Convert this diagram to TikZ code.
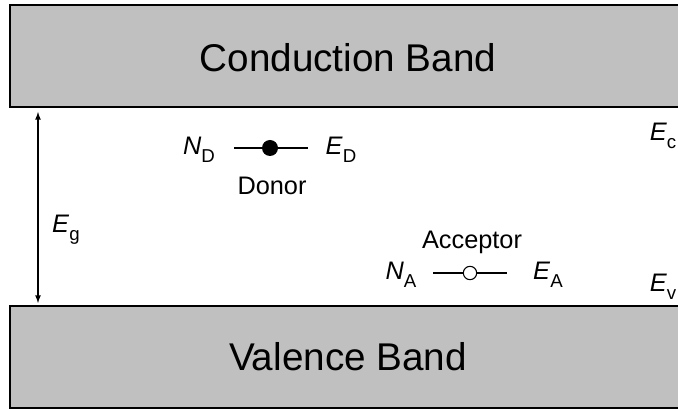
\documentclass[tikz,border=0pt]{standalone}
\usepackage{fontspec}
\setmainfont{Liberation Sans}
\usetikzlibrary{positioning}
\definecolor{bandgray}{RGB}{192,192,192}
\newcommand{\lvl}[2]{\textit{#1}\raisebox{-0.6ex}{\fontsize{14}{14}\selectfont #2}}

\begin{document}
\begin{tikzpicture}[x=0.75pt,y=-0.75pt,
    band/.style={draw=black, line width=1.3pt, fill=bandgray},
    bandtext/.style={font=\fontsize{29}{34}\selectfont},
    lbl/.style={font=\fontsize{19}{22}\selectfont, inner sep=0pt},
    level/.style={line width=1.3pt},
    donordot/.style={circle, fill=black, inner sep=0pt, minimum size=12pt},
    acceptdot/.style={circle, draw=black, fill=white, line width=0.8pt, inner sep=0pt, minimum size=10pt}]
  \useasboundingbox (0,0) rectangle (678,409);
  \draw[band] (10,5) rectangle (700,107);
  \draw[band] (10,306) rectangle (700,408);
  \node[bandtext] (cb) at (348,58) {Conduction Band};
  \node[bandtext] (vb) at (348,357) {Valence Band};

  \coordinate (gtop) at (38,112);
  \coordinate (gbot) at (38,303);
  \draw[<->, >=latex, line width=1pt] (gtop) -- (gbot);
  \node[lbl] (eg) at (66,230) {\lvl{E}{g}};

  \node[lbl] (ec) at (663,136) {\lvl{E}{c}};
  \node[lbl] (ev) at (663,287) {\lvl{E}{v}};

  \coordinate (donorL) at (234,148);
  \coordinate (donorR) at (308,148);
  \draw[level] (donorL) -- (donorR);
  \node[donordot] (donor) at (270,148) {};
  \node[lbl] (nd) at (199,150) {\lvl{N}{D}};
  \node[lbl] (ed) at (341,150) {\lvl{E}{D}};
  \node[lbl] (dname) at (272,186) {Donor};

  \coordinate (accL) at (433,273);
  \coordinate (accR) at (507,273);
  \draw[level] (accL) -- (accR);
  \node[acceptdot] (acc) at (470,273) {};
  \node[lbl] (na) at (401,275) {\lvl{N}{A}};
  \node[lbl] (ea) at (548,275) {\lvl{E}{A}};
  \node[lbl] (aname) at (472,242) {Acceptor};
\end{tikzpicture}
\end{document}
